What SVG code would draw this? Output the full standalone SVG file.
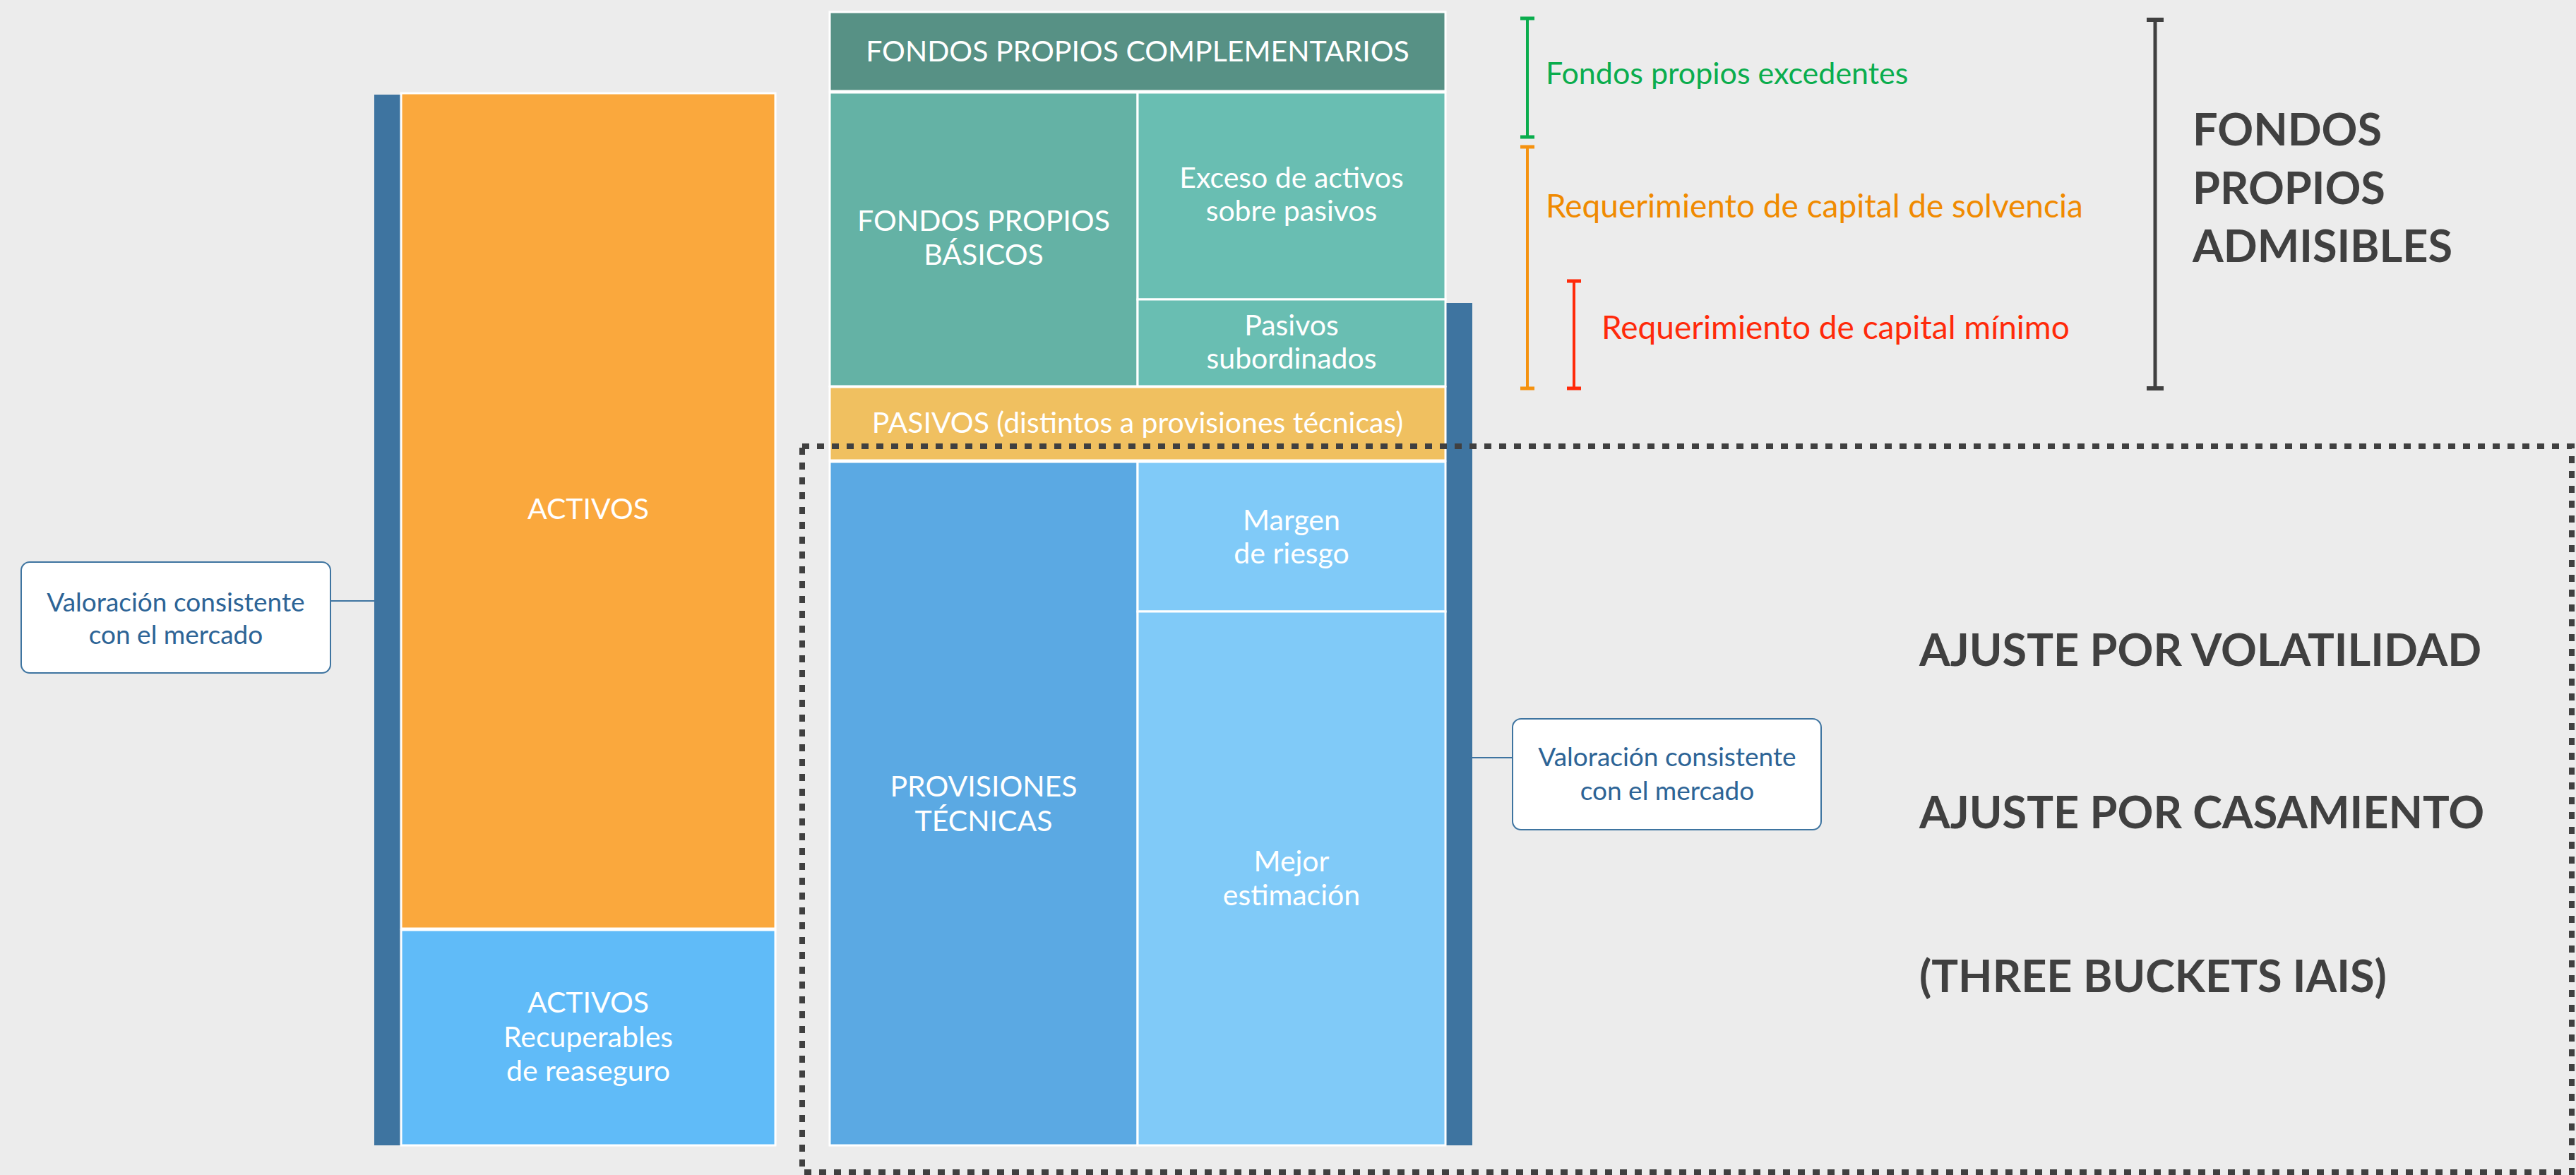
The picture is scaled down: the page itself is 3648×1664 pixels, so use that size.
<svg xmlns="http://www.w3.org/2000/svg" width="3648" height="1664" viewBox="0 0 3648 1664">
<style>
.box{stroke:#ffffff;stroke-width:3}
.wt{fill:#ffffff;font-family:Lato,"Open Sans",sans-serif;font-size:41px;text-anchor:middle}
.call{fill:#ffffff;stroke:#3e74a0;stroke-width:2}
.ct{fill:#2d6496;font-family:Lato,"Open Sans",sans-serif;font-size:37px;text-anchor:middle}
.big{fill:#404040;font-family:Lato,"Open Sans",sans-serif;font-size:63px;font-weight:bold}
.lbl{font-family:Lato,"Open Sans",sans-serif;font-size:46px}
.bar{fill:#3e74a0}
</style>
<rect x="0" y="0" width="3648" height="1664" fill="#ececec"/>

<g id="bar-left"><rect class="bar" x="530" y="134" width="38" height="1488"/></g>
<g id="activos"><rect class="box" x="568" y="132" width="530" height="1183" fill="#faa83d"/><text class="wt" x="833" y="735">ACTIVOS</text></g>
<g id="activos-recuperables"><rect class="box" x="568" y="1317" width="530" height="305" fill="#60bbf8"/>
<text class="wt" x="833" y="1434">ACTIVOS</text><text class="wt" x="833" y="1483">Recuperables</text><text class="wt" x="833" y="1531">de reaseguro</text></g>

<g id="callout-left"><rect class="call" x="30" y="796" width="438" height="157" rx="12"/>
<text class="ct" x="249" y="866">Valoración consistente</text><text class="ct" x="249" y="912">con el mercado</text></g>

<g id="bar-right"><rect class="bar" x="2047" y="429" width="38" height="1193"/></g>
<g id="fp-complementarios"><rect class="box" x="1175" y="17" width="872" height="112" fill="#579185"/><text class="wt" x="1611" y="87">FONDOS PROPIOS COMPLEMENTARIOS</text></g>
<g id="fp-basicos"><rect class="box" x="1175" y="131" width="436" height="416" fill="#64b2a5"/><text class="wt" x="1393" y="327">FONDOS PROPIOS</text><text class="wt" x="1393" y="375">BÁSICOS</text></g>
<g id="exceso"><rect class="box" x="1611" y="131" width="436" height="293" fill="#69beb2"/><text class="wt" x="1829" y="266">Exceso de activos</text><text class="wt" x="1829" y="313">sobre pasivos</text></g>
<g id="pasivos-sub"><rect class="box" x="1611" y="424" width="436" height="123" fill="#69beb2"/><text class="wt" x="1829" y="475">Pasivos</text><text class="wt" x="1829" y="522">subordinados</text></g>
<g id="pasivos"><rect class="box" x="1175" y="548" width="872" height="104" fill="#f0c060"/><text class="wt" x="1611" y="613">PASIVOS (distintos a provisiones técnicas)</text></g>
<g id="provisiones"><rect class="box" x="1175" y="654" width="436" height="968" fill="#5ba9e3"/><text class="wt" x="1393" y="1128">PROVISIONES</text><text class="wt" x="1393" y="1177">TÉCNICAS</text></g>
<g id="margen"><rect class="box" x="1611" y="654" width="436" height="212" fill="#80caf8"/><text class="wt" x="1829" y="751">Margen</text><text class="wt" x="1829" y="798">de riesgo</text></g>
<g id="mejor"><rect class="box" x="1611" y="866" width="436" height="756" fill="#80caf8"/><text class="wt" x="1829" y="1234">Mejor</text><text class="wt" x="1829" y="1282">estimación</text></g>

<g id="callout-right"><rect class="call" x="2142" y="1018" width="437" height="157" rx="12"/>
<text class="ct" x="2361" y="1085">Valoración consistente</text><text class="ct" x="2361" y="1133">con el mercado</text></g>

<g id="connectors" fill="none">
<line x1="468" y1="851" x2="541" y2="851" stroke="#3e74a0" stroke-width="2"/>
<line x1="2071" y1="1073" x2="2142" y2="1073" stroke="#3e74a0" stroke-width="2"/>
<rect x="1136" y="632" width="2506" height="1028" stroke="#404040" stroke-width="8" stroke-dasharray="10 11"/>
<g id="bracket-green" stroke="#0aad4d"><line x1="2163" y1="25" x2="2163" y2="195" stroke-width="4"/><line x1="2153" y1="26" x2="2173" y2="26" stroke-width="5"/><line x1="2153" y1="194" x2="2173" y2="194" stroke-width="5"/></g>
<g id="bracket-orange" stroke="#f5920f"><line x1="2163" y1="207" x2="2163" y2="551" stroke-width="4"/><line x1="2153" y1="208" x2="2173" y2="208" stroke-width="5"/><line x1="2153" y1="550" x2="2173" y2="550" stroke-width="5"/></g>
<g id="bracket-red" stroke="#ff2a0a"><line x1="2229" y1="397" x2="2229" y2="551" stroke-width="4"/><line x1="2219" y1="398" x2="2239" y2="398" stroke-width="5"/><line x1="2219" y1="550" x2="2239" y2="550" stroke-width="5"/></g>
<g id="bracket-dark" stroke="#404040"><line x1="3052" y1="27" x2="3052" y2="551" stroke-width="5"/><line x1="3040" y1="28" x2="3064" y2="28" stroke-width="6"/><line x1="3040" y1="550" x2="3064" y2="550" stroke-width="6"/></g>
</g>

<g id="labels">
<text class="lbl" x="2189" y="119" fill="#0aad4d" style="font-size:43px">Fondos propios excedentes</text>
<text class="lbl" x="2189" y="308" fill="#f08a00">Requerimiento de capital de solvencia</text>
<text class="lbl" x="2268" y="480" fill="#ff2a0a">Requerimiento de capital mínimo</text>
<text class="big" x="3105" y="206">FONDOS</text>
<text class="big" x="3105" y="289">PROPIOS</text>
<text class="big" x="3105" y="371">ADMISIBLES</text>
<text class="big" x="2718" y="943">AJUSTE POR VOLATILIDAD</text>
<text class="big" x="2718" y="1173">AJUSTE POR CASAMIENTO</text>
<text class="big" x="2718" y="1405">(THREE BUCKETS IAIS)</text>
</g>
</svg>
